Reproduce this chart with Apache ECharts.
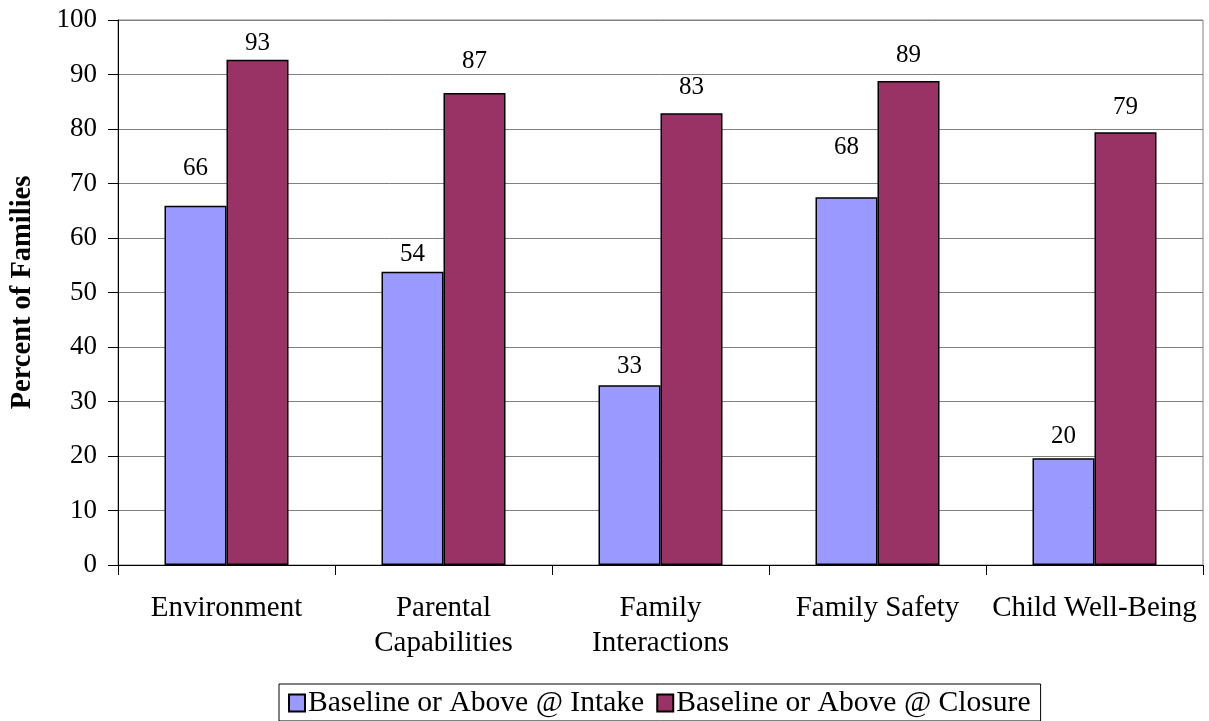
<!DOCTYPE html>
<html>
<head>
<meta charset="utf-8">
<script src="https://cdn.jsdelivr.net/npm/echarts@6/dist/echarts.min.js"></script>
<style>
html,body{margin:0;padding:0;background:#fff;}
#chart{width:1209px;height:721px;}
</style>
</head>
<body>
<div id="chart"></div>
<script>
const categories = ['Environment', 'Parental\nCapabilities', 'Family\nInteractions', 'Family Safety', 'Child Well-Being'];
const intakeValues = [65.9, 53.8, 33.0, 67.5, 19.6];
const closureValues = [92.7, 86.6, 82.9, 88.8, 79.4];
const seriesNames = ['Baseline or Above @ Intake', 'Baseline or Above @ Closure'];
const yTicks = { min: 0, max: 100, interval: 10 };

// label gaps (style only) as in the original Excel layout
const intakeLabelGap = [25, 5, 6, 37, 9];
const closureLabelGap = [4, 19, 13, 13, 12];

const FONT = 'Liberation Serif, Times New Roman, serif';
const chart = echarts.init(document.getElementById('chart'));

function buildSeriesData(values, gaps) {
  return values.map((v, i) => ({ value: v, label: { distance: gaps[i] } }));
}
const labelCfg = {
  show: true,
  position: 'top',
  color: '#000',
  fontFamily: FONT,
  fontSize: 25,
  formatter: p => Math.round(p.value)
};
chart.setOption({
  animation: false,
  backgroundColor: '#fff',
  textStyle: { fontFamily: FONT },
  grid: {
    left: 118, right: 6, top: 20, bottom: 156,
    show: true, borderColor: '#808080', borderWidth: 1
  },
  legend: {
    left: 279, top: 684,
    padding: [4, 10, 3, 9],
    borderColor: '#000', borderWidth: 1,
    icon: 'rect',
    itemWidth: 16, itemHeight: 17, itemGap: 12,
    textStyle: { fontFamily: FONT, fontSize: 29.6, color: '#000', padding: [0, 0, 0, -2], lineHeight: 30 },
    data: seriesNames
  },
  xAxis: {
    type: 'category',
    data: categories,
    axisLine: { lineStyle: { color: '#000', width: 1 } },
    axisTick: { show: true, length: 10, lineStyle: { color: '#000' } },
    axisLabel: { color: '#000', fontFamily: FONT, fontSize: 29, margin: 26, lineHeight: 35, interval: 0 }
  },
  yAxis: {
    type: 'value',
    min: yTicks.min, max: yTicks.max, interval: yTicks.interval,
    name: 'Percent of Families',
    nameLocation: 'middle',
    nameGap: 81,
    nameTextStyle: { fontFamily: FONT, fontSize: 28.5, fontWeight: 'bold', color: '#000' },
    axisLine: { show: true, lineStyle: { color: '#000', width: 1 } },
    axisTick: { show: true, length: 10, lineStyle: { color: '#000' } },
    axisLabel: { color: '#000', fontFamily: FONT, fontSize: 27, margin: 21 },
    splitLine: { show: true, lineStyle: { color: '#808080', width: 1 } }
  },
  series: [
    {
      name: seriesNames[0], type: 'bar', data: buildSeriesData(intakeValues, intakeLabelGap),
      barWidth: 62, barGap: '0%',
      itemStyle: { color: '#9999FF', borderColor: '#000', borderWidth: 1.5 },
      label: labelCfg
    },
    {
      name: seriesNames[1], type: 'bar', data: buildSeriesData(closureValues, closureLabelGap),
      barWidth: 62, barGap: '0%',
      itemStyle: { color: '#993366', borderColor: '#000', borderWidth: 1.5 },
      label: labelCfg
    }
  ]
});
</script>
</body>
</html>
